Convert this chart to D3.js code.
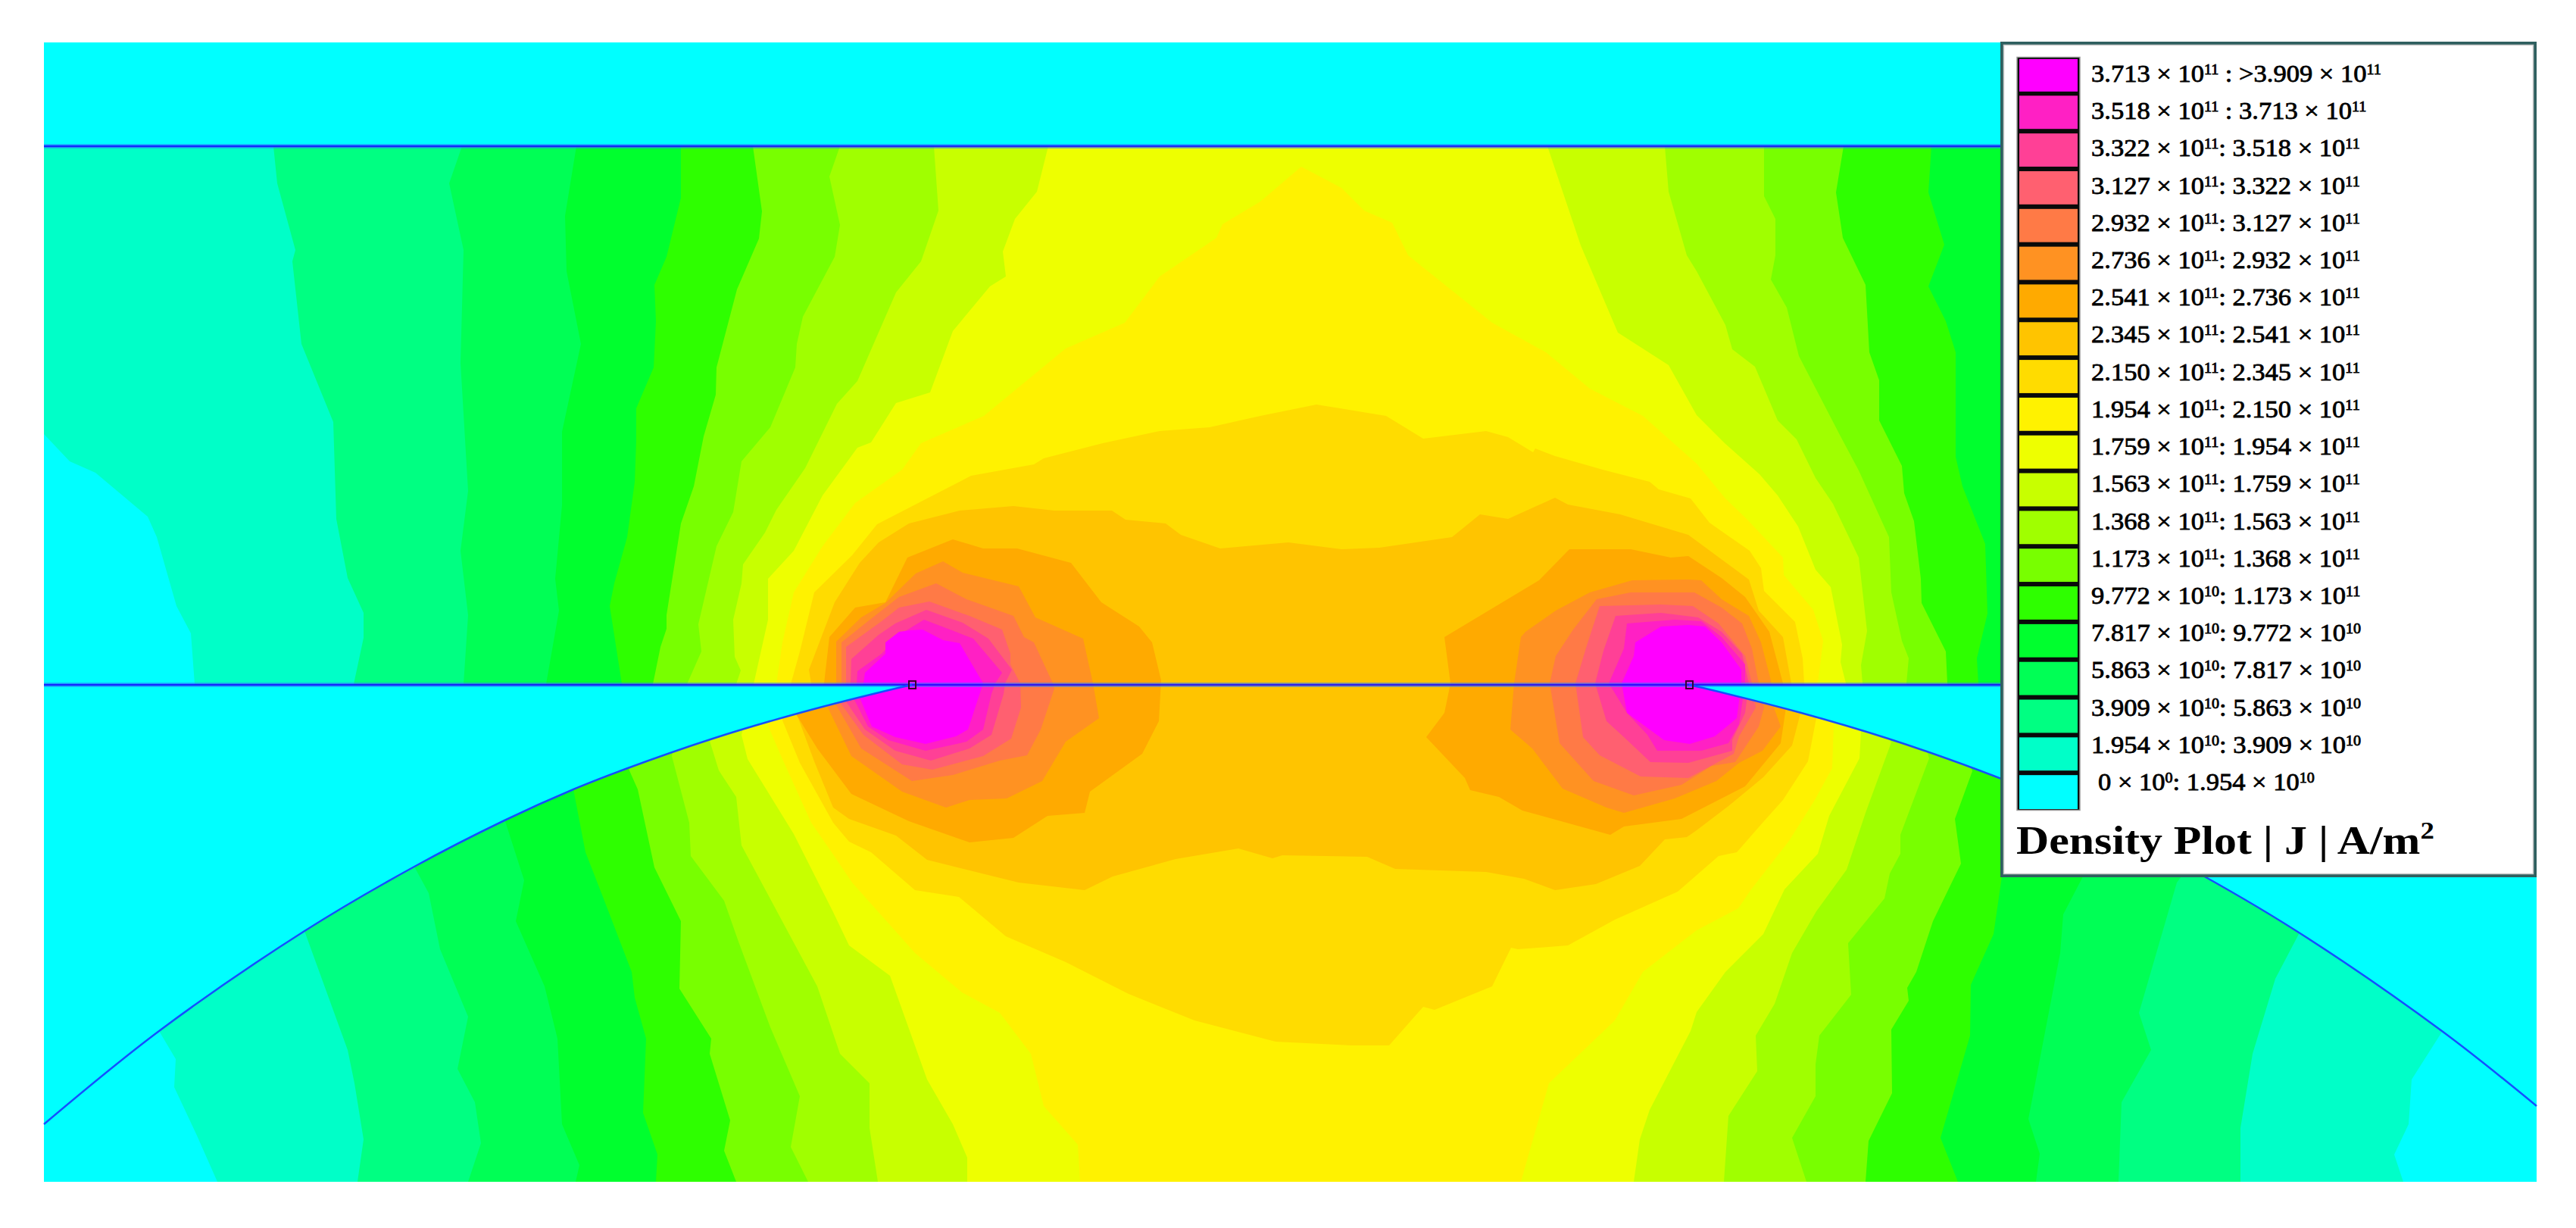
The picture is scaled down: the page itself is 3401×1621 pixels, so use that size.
<!DOCTYPE html>
<html>
<head>
<meta charset="utf-8">
<script src="https://cdnjs.cloudflare.com/ajax/libs/d3/7.8.5/d3.min.js"></script>
<style>
  html, body { margin: 0; background: #fff; }
  svg { display: block; }
</style>
</head>
<body>
<svg id="plot"></svg>
<script>
// band colours, lowest density first
const bandColours = ['#00FFFF', '#00FFC8', '#00FF82', '#00FF55', '#00FF2E', '#2EFF00', '#78FF00', '#A0FF00', '#C8FF00', '#EEFF00',
  '#FFF200', '#FFDC00', '#FFC400', '#FFAA00', '#FF9222', '#FF7A46', '#FF6070', '#FF4096', '#FF20C4', '#FF00FF'];

// legend text, top row first
const rangeLow = ['3.713', '3.518', '3.322', '3.127', '2.932', '2.736', '2.541', '2.345', '2.150', '1.954',
  '1.759', '1.563', '1.368', '1.173', '9.772', '7.817', '5.863', '3.909', '1.954', '0'];
const rangeLowExp = ['11', '11', '11', '11', '11', '11', '11', '11', '11', '11', '11', '11', '11', '11', '10', '10', '10', '10', '10', '0'];
const rangeHigh = ['>3.909', '3.713', '3.518', '3.322', '3.127', '2.932', '2.736', '2.541', '2.345', '2.150',
  '1.954', '1.759', '1.563', '1.368', '1.173', '9.772', '7.817', '5.863', '3.909', '1.954'];
const rangeHighExp = ['11', '11', '11', '11', '11', '11', '11', '11', '11', '11', '11', '11', '11', '11', '11', '10', '10', '10', '10', '10'];

// contour outlines in mesh units, each level holds everything at or above that density
const level1 = [[[8,143],[8,523],[42,559],[76,574],[145,632],[157,659],[183,750],[202,786],[207,853],[160,1311],[182,1348],[180,1385],[210,1449],[237,1510],[3123,1510],[3111,1474],[3130,1434],[3134,1375],[3176,1309],[3299,1309],[3299,143]]];
const level2 = [[[311,143],[316,192],[340,280],[336,295],[348,404],[390,507],[394,635],[409,713],[430,759],[430,792],[417,853],[352,1179],[409,1336],[418,1380],[430,1454],[422,1510],[2908,1510],[2908,1439],[2924,1341],[2954,1242],[2985,1183],[2950,854],[2950,143]]];
const level3 = [[[560,143],[543,192],[562,280],[558,429],[568,598],[558,677],[568,762],[562,853],[497,1094],[516,1129],[531,1203],[568,1292],[554,1361],[577,1405],[585,1459],[568,1510],[2747,1510],[2751,1405],[2790,1336],[2774,1287],[2824,1115],[2850,1080],[2800,854],[2800,143]]];
const level4 = [[[711,143],[696,235],[698,308],[717,404],[692,520],[692,617],[683,714],[688,756],[671,853],[616,1031],[642,1112],[631,1166],[669,1252],[686,1321],[692,1434],[715,1488],[710,1510],[2638,1510],[2643,1473],[2628,1427],[2670,1208],[2674,1157],[2699,1109],[2730,1040],[2650,854],[2650,143]]];
const level5 = [[[849,143],[849,211],[830,289],[814,326],[816,374],[813,435],[790,489],[790,532],[788,586],[778,659],[761,720],[755,750],[771,853],[707,992],[723,1075],[746,1134],[784,1233],[788,1267],[803,1321],[799,1419],[818,1474],[816,1510],[2535,1510],[2512,1452],[2551,1317],[2552,1250],[2582,1183],[2593,1107],[2650,1010],[2562,852],[2560,819],[2574,760],[2571,668],[2541,592],[2532,553],[2532,415],[2519,374],[2496,328],[2517,273],[2496,204],[2500,143]]];
const level6 = [[[944,143],[956,229],[952,265],[923,332],[896,435],[895,471],[879,526],[866,592],[849,641],[830,762],[830,780],[822,804],[812,853],[780,965],[792,992],[814,1095],[849,1166],[847,1255],[889,1321],[887,1341],[914,1429],[906,1469],[922,1510],[2413,1510],[2417,1456],[2448,1393],[2447,1309],[2470,1271],[2468,1254],[2480,1233],[2502,1166],[2539,1090],[2531,1031],[2554,968],[2521,852],[2519,810],[2487,746],[2486,714],[2477,638],[2464,601],[2461,565],[2431,505],[2431,452],[2418,415],[2413,326],[2383,264],[2374,204],[2384,143]]];
const level7 = [[[1059,143],[1045,183],[1059,247],[1052,289],[1010,368],[1002,404],[1000,435],[967,514],[929,559],[918,626],[896,671],[872,774],[876,810],[857,853],[837,948],[860,1036],[862,1080],[906,1139],[925,1193],[967,1306],[1006,1397],[994,1464],[1017,1510],[2335,1510],[2316,1452],[2347,1397],[2347,1355],[2352,1317],[2394,1263],[2390,1195],[2438,1136],[2445,1103],[2459,1077],[2459,1052],[2497,951],[2467,852],[2470,819],[2461,796],[2447,732],[2444,659],[2404,571],[2380,526],[2325,420],[2309,356],[2288,319],[2294,287],[2294,239],[2279,209],[2279,143]]];
const level8 = [[[1183,143],[1189,228],[1166,295],[1133,336],[1082,453],[1055,483],[1013,568],[975,623],[960,653],[931,695],[929,720],[918,768],[920,817],[928,835],[922,853],[887,928],[899,967],[922,1002],[929,1066],[979,1159],[1029,1252],[1059,1341],[1098,1380],[1098,1439],[1109,1510],[2226,1510],[2232,1423],[2270,1364],[2268,1317],[2293,1275],[2316,1208],[2348,1153],[2388,1098],[2413,1023],[2447,930],[2409,852],[2407,828],[2415,783],[2404,686],[2370,615],[2347,581],[2322,530],[2297,505],[2267,434],[2237,411],[2228,379],[2190,308],[2177,287],[2153,203],[2148,143]]];
const level9 = [[[1334,143],[1319,203],[1290,239],[1274,282],[1278,315],[1257,328],[1208,387],[1178,468],[1133,482],[1100,534],[1082,541],[1036,604],[998,677],[964,714],[964,768],[945,853],[929,920],[937,952],[998,1051],[1050,1154],[1071,1198],[1125,1238],[1174,1375],[1208,1434],[1227,1478],[1227,1510],[2107,1510],[2115,1454],[2128,1415],[2182,1311],[2190,1286],[2228,1233],[2278,1183],[2306,1124],[2350,1077],[2365,1027],[2405,951],[2407,917],[2387,852],[2380,824],[2382,801],[2367,725],[2347,702],[2324,645],[2297,604],[2273,576],[2227,535],[2190,498],[2153,432],[2086,389],[2037,274],[1993,143]]];
const level10 = [[[1668,170],[1614,216],[1564,246],[1556,264],[1481,315],[1435,376],[1357,410],[1249,499],[1166,535],[1141,570],[1079,614],[1036,671],[998,732],[983,798],[975,853],[964,908],[983,952],[1021,1036],[1050,1078],[1075,1115],[1158,1208],[1220,1260],[1270,1287],[1311,1341],[1328,1410],[1373,1461],[1376,1510],[1958,1510],[1995,1380],[2082,1297],[2119,1233],[2190,1178],[2245,1149],[2262,1124],[2312,1060],[2346,1006],[2369,964],[2371,905],[2350,852],[2357,796],[2344,755],[2305,709],[2304,686],[2257,636],[2228,608],[2190,562],[2119,499],[2049,463],[1991,415],[1920,376],[1809,287],[1788,244],[1751,228],[1721,198]]];
const level11 = [[[994,853],[1006,810],[1025,732],[1075,683],[1108,642],[1232,578],[1315,563],[1328,555],[1406,535],[1481,519],[1547,514],[1614,499],[1688,484],[1780,499],[1829,529],[1912,519],[1941,527],[1974,547],[1977,542],[2003,552],[2066,570],[2128,586],[2140,596],[2182,608],[2207,640],[2260,677],[2275,700],[2279,730],[2320,771],[2330,819],[2332,852],[2348,898],[2337,955],[2304,1006],[2278,1035],[2243,1075],[2219,1080],[2165,1127],[2082,1164],[2020,1198],[1954,1203],[1945,1201],[1920,1252],[1844,1283],[1829,1279],[1784,1330],[1734,1330],[1634,1325],[1527,1297],[1440,1262],[1357,1220],[1278,1186],[1216,1134],[1158,1125],[1100,1075],[1071,1061],[1050,1036],[1006,957],[983,901]]];
const level12 = [[[1021,852],[1018,834],[1052,745],[1085,693],[1110,666],[1150,641],[1217,624],[1288,618],[1342,624],[1418,624],[1436,636],[1489,641],[1509,656],[1561,674],[1651,666],[1721,675],[1771,673],[1867,659],[1904,629],[1941,635],[2003,607],[2020,616],[2089,629],[2179,656],[2259,715],[2272,756],[2304,791],[2315,852],[2327,892],[2316,934],[2278,976],[2232,1014],[2190,1046],[2177,1055],[2148,1058],[2115,1093],[2057,1117],[2003,1125],[1962,1110],[1912,1101],[1792,1097],[1755,1081],[1643,1079],[1630,1083],[1585,1070],[1502,1084],[1419,1107],[1382,1125],[1295,1115],[1174,1085],[1133,1053],[1071,1031],[1050,1016],[1025,955],[1002,893]]];
const level13 = [
  [[1038,852],[1045,791],[1079,752],[1119,745],[1148,686],[1208,662],[1248,674],[1293,674],[1364,693],[1404,745],[1454,777],[1471,798],[1483,848],[1480,902],[1458,945],[1389,995],[1382,1023],[1333,1027],[1288,1056],[1230,1062],[1150,1034],[1074,998],[1029,938],[1000,891]],
  [[1865,852],[1857,791],[1982,716],[2022,675],[2103,675],[2156,686],[2179,684],[2223,713],[2254,738],[2286,784],[2304,852],[2308,884],[2301,931],[2254,988],[2170,1031],[2094,1041],[2076,1052],[1960,1020],[1929,1002],[1891,993],[1884,977],[1833,923],[1857,891]]
];
const level14 = [
  [[1054,852],[1054,797],[1087,765],[1119,746],[1159,707],[1195,691],[1221,706],[1295,724],[1317,765],[1380,793],[1393,852],[1401,898],[1357,929],[1326,981],[1279,1004],[1230,1006],[1199,1016],[1141,995],[1074,948],[1043,884]],
  [[1949,852],[1958,791],[1964,784],[2004,756],[2049,732],[2105,716],[2179,715],[2196,716],[2223,741],[2259,763],[2275,798],[2288,848],[2292,884],[2301,909],[2277,941],[2246,957],[2216,981],[2161,1004],[2094,1023],[2071,1016],[2013,991],[1973,938],[1944,913]]
];
const level15 = [
  [[1061,852],[1061,798],[1096,770],[1137,738],[1186,720],[1226,741],[1288,763],[1302,791],[1315,798],[1340,852],[1342,859],[1324,913],[1306,947],[1270,954],[1208,973],[1154,981],[1087,938],[1052,877]],
  [[1996,852],[2004,816],[2027,781],[2058,741],[2103,732],[2187,732],[2223,752],[2250,773],[2263,806],[2272,852],[2279,884],[2272,909],[2241,956],[2210,961],[2170,986],[2107,1000],[2054,981],[2009,931]]
];
const level16 = [
  [[1067,852],[1067,804],[1114,770],[1137,752],[1177,744],[1230,763],[1273,781],[1284,813],[1284,827],[1297,852],[1298,884],[1285,925],[1248,948],[1181,966],[1141,959],[1090,920],[1056,873]],
  [[2030,852],[2045,802],[2062,750],[2143,748],[2185,750],[2219,773],[2254,816],[2263,852],[2268,884],[2246,922],[2239,945],[2179,977],[2116,975],[2062,947],[2040,923]]
];
const level17 = [
  [[1073,852],[1074,820],[1110,788],[1132,773],[1173,755],[1221,772],[1255,793],[1286,834],[1277,852],[1275,866],[1259,920],[1230,938],[1179,954],[1132,941],[1092,913],[1063,870]],
  [[2056,852],[2067,809],[2083,763],[2143,759],[2192,765],[2223,784],[2250,813],[2259,852],[2254,891],[2237,927],[2237,941],[2179,957],[2129,956],[2094,923],[2071,902]]
];
const level18 = [
  [[1081,852],[1082,836],[1114,813],[1137,788],[1170,768],[1212,784],[1235,793],[1273,838],[1264,852],[1259,866],[1248,913],[1226,929],[1172,941],[1123,927],[1096,909],[1074,866]],
  [[2074,852],[2094,806],[2098,773],[2161,768],[2196,770],[2223,791],[2254,827],[2254,852],[2246,906],[2232,931],[2196,941],[2138,941],[2125,920],[2098,891]]
];
const level19 = [
  [[1090,852],[1092,838],[1119,813],[1119,798],[1137,784],[1152,782],[1168,781],[1195,795],[1217,799],[1248,852],[1228,913],[1212,922],[1172,932],[1132,923],[1101,909],[1083,866]],
  [[2091,852],[2107,816],[2109,798],[2143,777],[2179,775],[2201,777],[2223,798],[2249,834],[2249,852],[2243,898],[2214,922],[2181,932],[2147,927],[2098,891]]
];
const contourLevels = [level1, level2, level3, level4, level5, level6, level7, level8, level9, level10,
  level11, level12, level13, level14, level15, level16, level17, level18, level19];

// boundaries of the model, same mesh units
const upperEdge = 143;
const midEdge = 854;
const tips = [[1154, 854], [2180, 854]];
const leftArc = [[8,1434],[160,1311],[352,1179],[497,1094],[616,1033],[707,992],[776,965],[891,925],[1006,891],[1136,858],[1154,854]];
const rightArc = [[2180,854],[2198,858],[2328,891],[2443,925],[2558,965],[2627,992],[2718,1033],[2837,1094],[2982,1179],[3174,1311],[3299,1410]];

const width = 3401;
const height = 1621;

const x = d3.scaleLinear().domain([8, 3299]).range([58, 3349]);
const y = d3.scaleLinear().domain([6, 1510]).range([56, 1560]);

const svg = d3.select('#plot').attr('width', width).attr('height', height);

const ring = d3.line().x(d => x(d[0])).y(d => y(d[1]));
const arcLine = d3.line().x(d => x(d[0])).y(d => y(d[1])).curve(d3.curveCatmullRom);

// background band
svg.append('rect')
  .attr('x', x(8)).attr('y', y(6))
  .attr('width', x(3299) - x(8)).attr('height', y(1510) - y(6))
  .attr('fill', bandColours[0]);

// painter's order, low to high
contourLevels.forEach((rings, i) => {
  svg.append('g').selectAll('path')
    .data(rings)
    .enter()
    .append('path')
    .attr('d', d => ring(d) + 'Z')
    .attr('fill', bandColours[i + 1]);
});

// air gaps go on top of the field
const leftGap = arcLine(leftArc) + 'L' + x(1154) + ',' + y(midEdge) + 'L' + x(8) + ',' + y(midEdge) + 'Z';
const rightGap = arcLine(rightArc) + 'L' + x(3299) + ',' + y(midEdge) + 'L' + x(2180) + ',' + y(midEdge) + 'Z';
svg.append('rect')
  .attr('x', x(8)).attr('y', y(6))
  .attr('width', x(3299) - x(8)).attr('height', y(upperEdge) - y(6))
  .attr('fill', bandColours[0]);
svg.append('path').attr('d', leftGap).attr('fill', bandColours[0]);
svg.append('path').attr('d', rightGap).attr('fill', bandColours[0]);

// conductor outlines
[upperEdge, midEdge].forEach(v => {
  svg.append('line')
    .attr('x1', x(8)).attr('x2', x(3299))
    .attr('y1', y(v)).attr('y2', y(v))
    .attr('stroke', '#2d7fff').attr('stroke-opacity', 0.55).attr('stroke-width', 6);
  svg.append('line')
    .attr('x1', x(8)).attr('x2', x(3299))
    .attr('y1', y(v)).attr('y2', y(v))
    .attr('stroke', '#1400ff').attr('stroke-opacity', 0.8).attr('stroke-width', 2.5);
});
[leftArc, rightArc].forEach(a => {
  svg.append('path')
    .attr('d', arcLine(a))
    .attr('fill', 'none')
    .attr('stroke', '#1450ff')
    .attr('stroke-width', 2.5);
});
svg.selectAll('.tip')
  .data(tips)
  .enter()
  .append('rect')
  .attr('class', 'tip')
  .attr('x', d => x(d[0]) - 4).attr('y', d => y(d[1]) - 5)
  .attr('width', 9).attr('height', 10)
  .attr('fill', 'none')
  .attr('stroke', '#3a0030')
  .attr('stroke-width', 2);

// legend panel
const legend = svg.append('g');
legend.append('rect')
  .attr('x', 2643).attr('y', 57).attr('width', 704).attr('height', 1099)
  .attr('fill', '#fff').attr('stroke', '#2f5f5f').attr('stroke-width', 4);
legend.append('rect')
  .attr('x', 2645.5).attr('y', 59.5).attr('width', 699).attr('height', 1094)
  .attr('fill', 'none').attr('stroke', '#c9c9c9').attr('stroke-width', 1.5);

const rowBand = d3.scaleBand().domain(d3.range(20)).range([74.5, 1071]);
const rowText = d3.scaleLinear().domain([0, 19]).range([108, 1043]);
const legendFont = '"Liberation Serif", serif';

legend.append('rect')
  .attr('x', 2663).attr('y', 75.5).attr('width', 83).attr('height', 994)
  .attr('fill', '#0a0a0a').attr('stroke', '#9a9a9a').attr('stroke-width', 1.5);
legend.selectAll('.swatch')
  .data(d3.range(20))
  .enter()
  .append('rect')
  .attr('class', 'swatch')
  .attr('x', 2666)
  .attr('y', d => rowBand(d) + (d === 0 ? 3.5 : 2))
  .attr('width', 77)
  .attr('height', d => rowBand.bandwidth() - (d === 0 ? 7 : d === 19 ? 5 : 6))
  .attr('fill', d => bandColours[19 - d]);

const rows = legend.selectAll('.row')
  .data(d3.range(20))
  .enter()
  .append('text')
  .attr('class', 'row')
  .attr('font-family', legendFont)
  .attr('font-size', 31)
  .attr('fill', '#000')
  .attr('stroke', '#000')
  .attr('stroke-width', 0.8);

rows.each(function(d) {
  const t = d3.select(this);
  const gap = d < 2 ? ' : ' : ': ';
  t.append('tspan').text(rangeLow[d] + ' × 10');
  t.append('tspan').attr('font-size', 18).attr('dy', -10).text(rangeLowExp[d]);
  t.append('tspan').attr('dy', 10).text(gap + rangeHigh[d] + ' × 10');
  t.append('tspan').attr('font-size', 18).attr('dy', -10).text(rangeHighExp[d]);
});

// Liberation runs narrower than the original face, stretch to the first row's width
const rowStretch = 383 / rows.nodes()[0].getComputedTextLength();
rows.attr('transform', d => 'translate(' + (d === 19 ? 2770 : 2761) + ',' + rowText(d) + ') scale(' + rowStretch + ',1)');

const title = legend.append('text')
  .attr('font-family', legendFont)
  .attr('font-size', 52)
  .attr('font-weight', 700)
  .attr('fill', '#000');
title.append('tspan').text('Density Plot | J | A/m');
title.append('tspan').attr('font-size', 32).attr('dy', -20).text('2');
const titleStretch = 552 / title.node().getComputedTextLength();
title.attr('transform', 'translate(2662,1127) scale(' + titleStretch + ',1)');
</script>
</body>
</html>
